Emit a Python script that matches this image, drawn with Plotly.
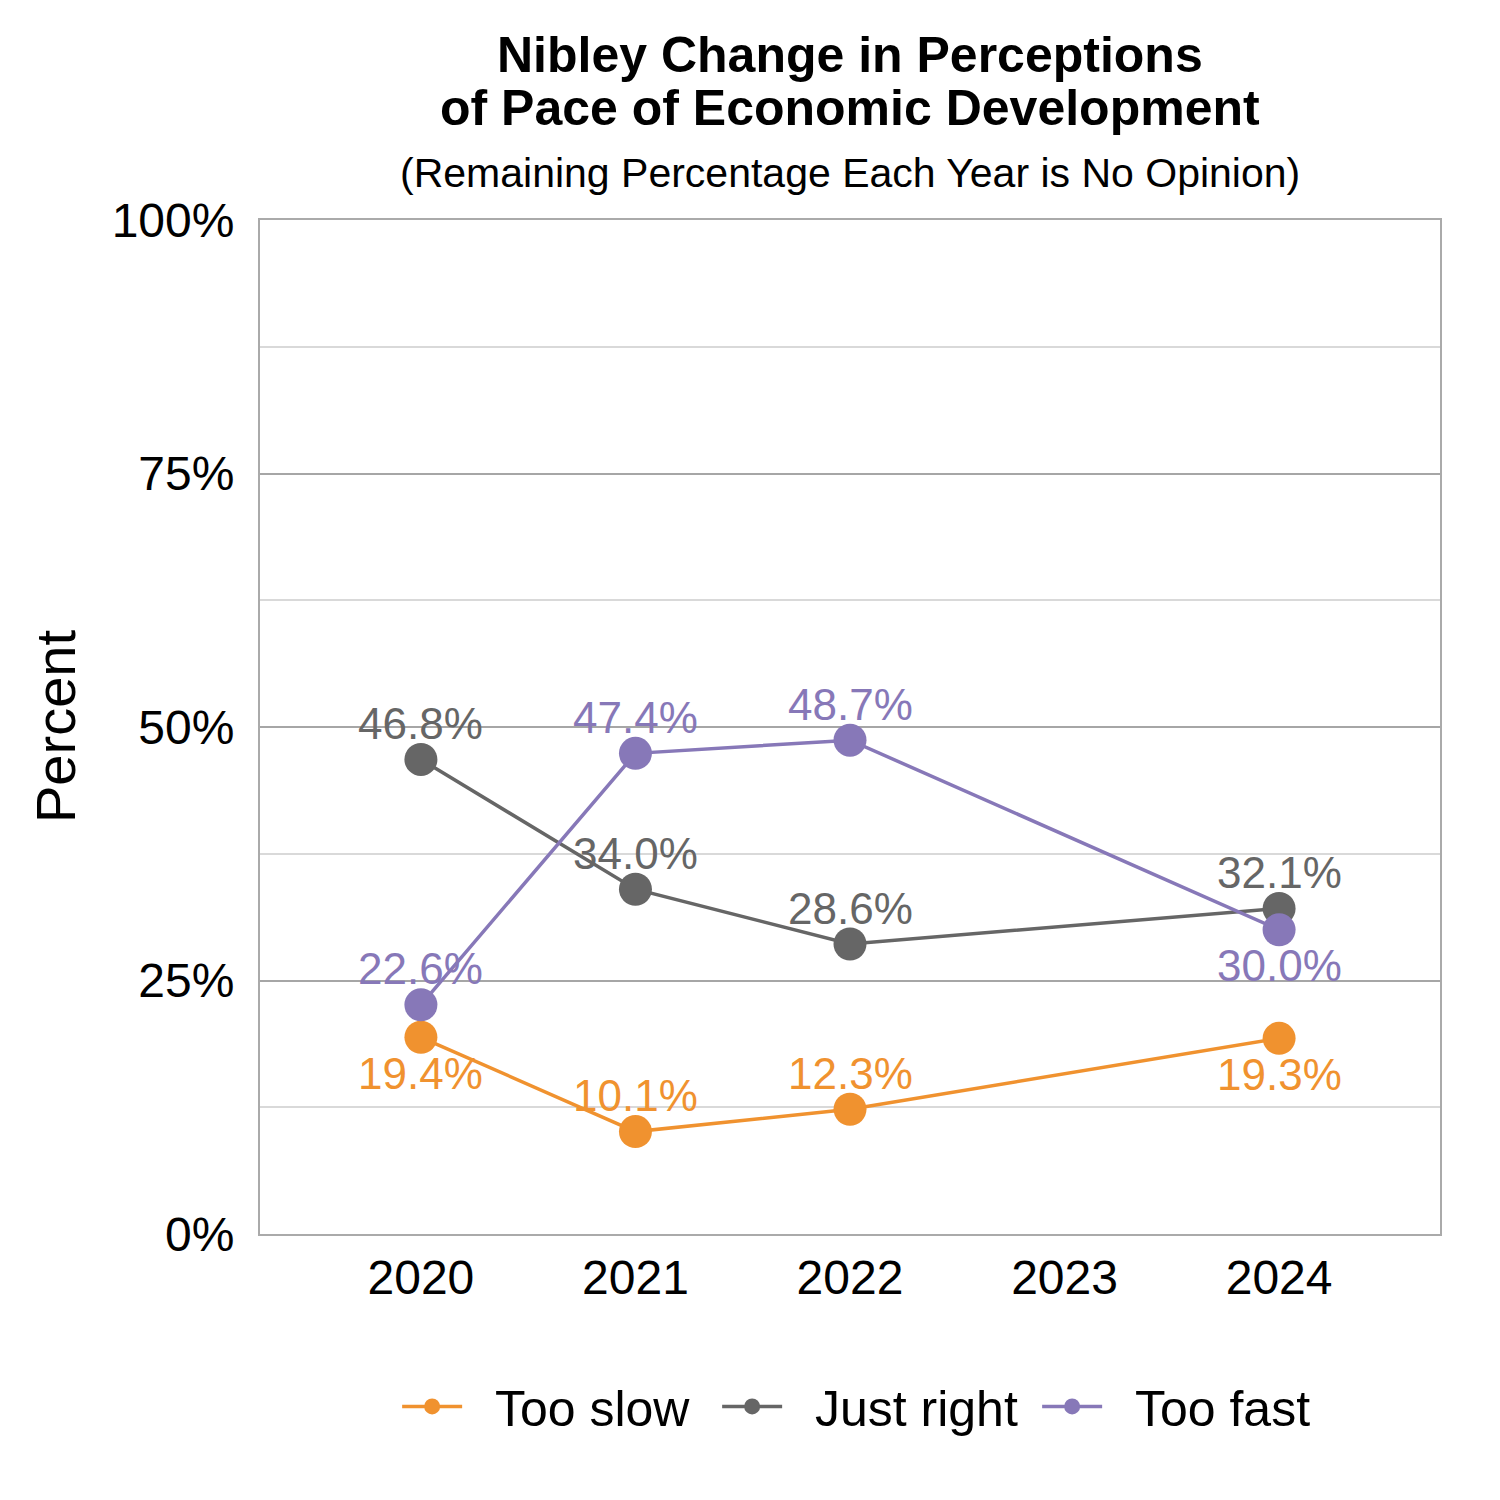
import plotly.graph_objects as go

# data
years = [2020, 2021, 2022, 2024]
too_slow = [19.4, 10.1, 12.3, 19.3]
just_right = [46.8, 34.0, 28.6, 32.1]
too_fast = [22.6, 47.4, 48.7, 30.0]
x_ticks = [2020, 2021, 2022, 2023, 2024]
y_ticks = [0, 25, 50, 75, 100]

FONT = "Liberation Sans, Arial, sans-serif"

# label above (+1) or below (-1) each point
series = [
    ("Too slow", too_slow, "#F0922F", [-1, 1, 1, -1]),
    ("Just right", just_right, "#666666", [1, 1, 1, 1]),
    ("Too fast", too_fast, "#8778B8", [1, 1, 1, -1]),
]

fig = go.Figure()
for name, vals, color, side in series:
    fig.add_trace(
        go.Scatter(
            x=years,
            y=vals,
            name="\u00a0\u00a0" + name,
            mode="lines+markers",
            line=dict(color=color, width=3.5),
            marker=dict(color=color, size=33),
            cliponaxis=False,
        )
    )
    for x, v, s in zip(years, vals, side):
        fig.add_annotation(
            x=x, y=v, text=f"{v:.1f}%", showarrow=False,
            yshift=36 * s, yanchor="middle",
            font=dict(family=FONT, size=44, color=color),
        )

fig.update_layout(
    width=1500,
    height=1500,
    paper_bgcolor="white",
    plot_bgcolor="white",
    font=dict(family=FONT, size=48, color="black"),
    margin=dict(l=252, r=68, t=212, b=274),
    showlegend=True,
    legend=dict(
        orientation="h",
        x=0.523,
        xanchor="center",
        y=-0.17,
        yanchor="middle",
        font=dict(size=50),
        itemwidth=60,
        entrywidth=245,
        entrywidthmode="pixels",
    ),
)

titles = [
    ("<b>Nibley Change in Perceptions</b>", 1179, 50),
    ("<b>of Pace of Economic Development</b>", 1126, 50),
    ("(Remaining Percentage Each Year is No Opinion)", 1061, 41),
]
for txt, shift, size in titles:
    fig.add_annotation(
        text=txt, xref="paper", yref="paper", x=0.5, y=0,
        yshift=shift, showarrow=False, yanchor="middle",
        font=dict(size=size, color="black"),
    )

# y axis title
fig.add_annotation(
    text="Percent", xref="paper", yref="paper", x=0, y=0.5,
    xshift=-205, showarrow=False, textangle=-90,
    xanchor="center", yanchor="middle",
    font=dict(size=56, color="black"),
)

fig.update_xaxes(
    range=[2019.25, 2024.75],
    tickvals=x_ticks,
    ticktext=[str(v) for v in x_ticks],
    showgrid=False,
    zeroline=False,
    showline=True,
    linecolor="#AAAAAA",
    linewidth=2,
    mirror=True,
    ticks="",
    ticklabelstandoff=0,
    tickfont=dict(size=48),
)
fig.update_yaxes(
    range=[0, 100],
    tickvals=y_ticks,
    ticktext=[f"{v}%" for v in y_ticks],
    showgrid=True,
    gridcolor="#A6A6A6",
    gridwidth=2,
    zeroline=False,
    showline=True,
    linecolor="#AAAAAA",
    linewidth=2,
    mirror=True,
    ticks="",
    ticklabelstandoff=14,
    tickfont=dict(size=48),
    minor=dict(dtick=12.5, showgrid=True, gridcolor="#D9D9D9", gridwidth=1.5),
)

fig.write_html("out.html")
